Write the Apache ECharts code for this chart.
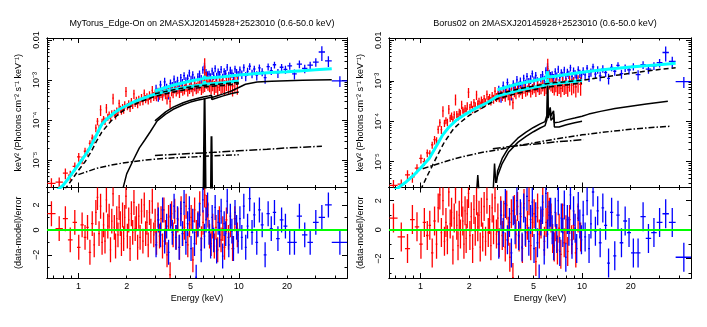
<!DOCTYPE html>
<html>
<head>
<meta charset="utf-8">
<script src="https://cdn.jsdelivr.net/npm/echarts@6.0.0/dist/echarts.min.js"></script>
<style>
  html, body { margin: 0; padding: 0; background: #fff; }
  #chart { width: 707px; height: 327px; }
</style>
</head>
<body>
<div id="chart"></div>
<script>
// ---- data (flux values in units of 1e-4 keV^2 photons/cm^2/s/keV) ----

// red data group: bin edges (keV), flux, error (%), residuals for both fits
const redEdge = [0.64,0.72,0.80,0.86,0.92,0.98,1.03,1.08,1.12,1.16,1.20,1.24,1.27,1.30,1.33,1.36,1.39,1.42,1.45,1.48,
  1.51,1.54,1.57,1.60,1.63,1.66,1.69,1.72,1.75,1.78,1.81,1.84,1.87,1.90,1.93,1.96,2.00,2.04,2.08,2.12,
  2.16,2.20,2.24,2.28,2.32,2.36,2.40,2.45,2.50,2.55,2.60,2.65,2.70,2.75,2.80,2.86,2.92,2.98,3.04,3.10,
  3.17,3.24,3.31,3.38,3.45,3.53,3.61,3.69,3.77,3.85,3.94,4.03,4.12,4.22,4.32,4.42,4.53,4.64,4.75,4.87,
  4.99,5.11,5.24,5.37,5.50,5.64,5.78,5.92,6.06,6.20,6.35,6.50,6.65,6.80,6.96,7.12,7.30,7.48,7.66,7.85,
  8.05,8.25,8.50,8.75,9.00,9.30,9.60,10.0]
const redFlux = [0.026,0.028,0.047,0.042,0.069,0.12,0.10,0.165,0.16,0.26,
  0.35,0.33,0.63,0.93,0.62,1.8,0.9,1.05,0.95,2.0,
  1.2,1.35,1.1,1.45,3.5,1.5,1.3,1.7,1.6,2.6,
  1.9,1.7,2.1,1.8,2.4,5.2,2.2,2.6,2.0,2.9,
  2.4,4.5,2.7,3.1,2.5,3.3,2.9,3.6,3.0,4.6,
  3.4,3.8,3.2,4.2,3.6,5.5,4.0,4.4,3.9,5.0,
  4.3,4.8,4.1,5.4,4.6,3.5,5.3,2.9,5.6,5.0,
  6.2,5.2,5.9,4.9,6.6,5.6,6.0,7.2,5.5,6.4,
  7.0,5.8,7.6,6.5,6.9,8.2,6.4,7.3,20,11,
  9.0,8.0,7.0,8.4,6.8,7.9,6.5,8.8,7.4,8.1,
  6.9,9.2,7.8,8.6,7.1,9.4,8.2]
const redErr = [35,30,30,28,25,25,22,22,20,20,
  24,22,22,21,22,30,20,20,21,26,
  20,21,20,21,30,20,21,20,20,24,
  20,21,20,21,22,28,21,20,21,22,
  22,26,22,22,22,23,22,23,22,25,
  23,23,24,25,25,28,25,25,25,27,
  26,26,26,28,28,30,30,32,30,30,
  26,26,26,28,28,28,28,30,30,30,
  30,32,32,32,33,34,34,36,75,45,
  40,38,38,38,38,40,40,40,40,42,
  42,42,44,44,46,46,48]
const redResMyTorus = [1.3,0.1,0.9,-0.8,0.6,-1.4,0.4,-0.6,0.2,-1.8,
  0.5,-1.2,1.4,2.6,-0.3,1.9,-1.0,0.4,-0.9,2.4,
  0.3,1.1,-1.6,0.7,2.9,0.2,-1.3,0.9,-0.4,1.8,
  0.5,-1.1,1.2,-0.7,1.0,2.7,-0.5,0.8,-1.5,1.3,
  -0.2,2.2,0.1,0.9,-1.4,1.1,-0.6,1.5,-0.9,2.0,
  -0.3,0.6,-1.2,1.4,-0.1,2.3,-0.4,0.7,-1.0,1.2,
  -0.5,0.9,-1.3,1.6,-0.2,-2.0,1.0,-3.6,1.3,-0.4,
  1.5,-0.6,0.8,-1.4,1.7,-0.3,0.2,1.9,-1.2,0.4,
  1.0,-2.4,1.6,-0.2,0.5,2.1,-0.7,0.6,2.8,1.8,
  1.2,-0.5,-1.1,0.3,-1.3,0.2,-1.6,0.9,-0.8,0.1,
  -1.4,0.8,-0.6,0.4,-1.5,0.9,-0.4]
const redResBorus = [0.8,-0.5,-1.3,0.7,0.2,-1.0,0.5,-0.4,0.3,-1.6,
  0.6,-1.0,1.5,2.4,-0.2,2.0,-0.8,0.5,-0.7,2.6,
  0.4,1.2,-1.4,0.8,2.8,0.3,-1.1,1.0,-0.3,1.9,
  0.6,-1.0,1.3,-0.6,1.1,2.5,-0.4,0.9,-1.3,1.4,
  -0.1,2.0,0.2,1.0,-1.2,1.2,-0.5,1.6,-0.8,2.1,
  -0.2,0.7,-1.1,1.5,0.0,2.2,-0.3,0.8,-0.9,1.3,
  -0.4,1.0,-1.2,1.7,-0.1,-1.9,1.1,-3.3,1.4,-0.3,
  1.6,-0.5,0.9,-1.3,1.8,-0.2,0.3,2.0,-1.1,0.5,
  1.1,-2.2,1.5,-0.3,0.4,1.9,-0.8,0.5,1.6,1.2,
  0.8,-0.6,-1.2,0.2,-1.4,0.1,-1.7,0.8,-0.9,0.0,
  -1.5,0.7,-0.7,0.3,-1.6,0.8,-0.5]

// blue data group
const blueEdge = [3.00,3.10,3.20,3.30,3.40,3.50,3.60,3.70,3.80,3.90,4.00,4.10,4.20,4.30,4.40,4.50,4.62,4.74,4.86,4.98,
  5.10,5.23,5.36,5.49,5.62,5.76,5.90,6.04,6.18,6.32,6.46,6.60,6.75,6.90,7.05,7.20,7.36,7.52,7.68,7.85,
  8.02,8.20,8.38,8.57,8.76,8.96,9.16,9.37,9.58,9.80,10.03,10.3,10.6,10.9,11.2,11.5,11.9,12.3,12.7,13.2,
  13.7,14.3,14.9,15.6,16.3,17.1,18.0,19.0,20.1,21.5,23.0,24.8,26.8,29.0,31.5,34.5,38.0,48.0]
const blueFlux = [5.8,4.2,7.5,5.0,9.0,6.2,4.8,8.2,7.0,10.5,
  7.4,9.6,6.8,11.5,8.4,12.8,9.3,11.0,15.0,10.2,
  13.5,9.8,6.5,12.0,14.2,10.6,18.0,22.0,15.5,14.0,
  14.0,11.8,16.8,13.0,19.5,12.2,15.8,13.6,18.5,11.4,
  16.2,14.4,21.0,12.8,17.6,14.8,12.0,19.0,15.2,13.4,
  17.8,14.0,20.5,12.6,16.4,22.0,14.6,18.8,13.2,20.0,
  16.0,11.5,21.5,17.2,24.0,15.0,20.8,18.5,22.5,14.2,
  25.0,19.5,23.5,28.0,50.0,30.0,9.5]
const blueErr = [30,32,28,30,26,30,32,26,28,24,
  27,25,28,23,26,22,25,24,20,25,
  22,25,20,23,22,25,20,23,21,18,
  22,24,21,23,20,24,22,23,20,25,
  22,23,19,25,21,23,26,20,23,25,
  22,24,20,26,23,19,24,21,26,21,
  23,30,20,23,19,25,21,23,20,28,
  22,24,22,24,40,30,30]
const blueResMyTorus = [-1.2,0.8,-0.4,1.6,-0.9,0.3,-1.8,1.1,-0.2,1.9,
  -0.6,0.9,-1.4,1.3,-0.3,2.2,-1.0,0.5,1.7,-1.5,
  0.7,-1.1,-3.8,0.4,1.2,-1.6,2.4,-0.5,0.8,2.0,
  -0.2,-1.3,1.0,-0.8,1.8,-1.7,0.6,-0.4,1.5,-2.1,
  0.5,-0.3,2.3,-1.2,1.1,-0.1,-1.5,1.4,0.2,-0.9,
  0.9,-0.6,1.9,-1.4,0.3,2.5,-0.2,1.2,-1.0,1.6,
  0.4,-2.0,1.3,0.1,1.4,-0.7,0.8,0.3,-1.0,-1.0,
  1.1,-0.4,-1.0,0.6,1.0,2.0,-1.0]
const blueResBorus = [-1.0,1.0,-0.2,1.8,-0.7,0.5,-1.6,1.3,0.0,2.0,
  -0.4,1.1,-1.2,1.5,-0.1,2.3,-0.8,0.7,1.9,-1.3,
  0.9,-0.9,-3.4,0.6,1.4,-1.4,2.5,-0.3,1.0,1.2,
  0.0,-1.1,1.2,-0.6,2.0,-1.5,0.8,-0.2,1.7,-1.9,
  0.7,-0.1,2.4,-1.0,1.3,0.1,-1.3,1.6,0.4,-0.7,
  1.0,-0.5,2.0,-1.3,0.4,2.6,-0.1,1.3,-0.9,1.5,
  0.3,-2.3,1.2,-1.8,1.0,-0.9,0.6,-0.2,-1.6,-1.6,
  0.9,-0.6,-0.2,0.5,1.1,0.5,-1.9]

// MyTorus model curves [keV, flux]
const myTotalRed = [[0.72,0.016],[0.80,0.023],[0.86,0.033],[0.92,0.048],[0.98,0.068],[1.04,0.095],[1.10,0.13],[1.16,0.18],
  [1.22,0.26],[1.28,0.38],[1.34,0.56],[1.40,0.78],[1.50,1.05],[1.65,1.45],[1.80,1.85],[2.0,2.3],[2.2,2.8],[2.4,3.2],
  [2.64,3.7],[3.0,4.4],[3.5,5.2],[4.0,5.9],[5.0,6.9],[6.0,7.6],[6.06,7.7],[6.12,9.2],[6.18,7.8],[6.7,8.1],[6.76,8.6],
  [6.82,7.8],[8.0,8.5],[9.0,9.0],[10.0,9.4]]
const myTotalBlue = [[3.0,5.3],[3.5,6.5],[4.0,7.6],[5.0,9.4],[6.0,10.8],[6.06,10.9],[6.12,12.4],[6.18,11.0],[6.7,11.4],
  [6.76,11.9],[6.82,11.1],[8.0,12.0],[10.0,13.3],[13.0,14.6],[16.0,15.3],[20.0,16.1],[25.0,17.0],[30.0,17.9],[38.0,19.2]]
const myDirectRed = [[0.82,0.018],[0.90,0.03],[1.0,0.055],[1.1,0.09],[1.2,0.16],[1.3,0.3],[1.4,0.5],[1.6,0.95],[1.8,1.45],
  [2.0,1.95],[2.4,2.8],[3.0,3.9],[4.0,5.1],[5.0,6.0],[6.0,6.6],[6.8,7.0],[6.85,6.7],[8.0,7.3],[10.0,8.0]]
const myDirectBlue = [[3.0,4.5],[4.0,5.8],[5.0,6.7],[6.0,7.3],[6.8,7.7],[6.85,7.4],[8.0,8.0],[10.0,8.7]]
const myScatRed = [[1.9,0.02],[2.0,0.045],[2.2,0.1],[2.4,0.2],[2.6,0.32],[2.8,0.5],[3.1,0.95],[3.5,1.4],[3.9,1.85],[4.5,2.4],
  [5.0,2.8],[5.5,3.1],[6.0,3.35],[6.5,3.6],[6.75,3.7],[6.8,3.25],[6.9,3.3],[8.0,4.0],[9.0,4.6],[10.0,5.0]]
const myScatBlue = [[3.0,0.95],[3.5,1.6],[3.9,2.1],[4.5,2.7],[5.0,3.1],[5.5,3.45],[6.0,3.75],[6.5,4.0],[6.75,4.15],[6.8,3.65],
  [6.9,3.7],[8.0,4.5],[9.0,5.3],[10.0,6.5],[11.0,7.8],[13.0,8.9],[16.0,9.3],[20.0,9.6],[25.0,9.8],[30.0,9.95],[38.0,10.1]]
const myPlRed = [[1.0,0.043],[1.3,0.062],[1.64,0.076],[2.0,0.087],[2.64,0.10],[3.5,0.11],[5.4,0.12],[7.0,0.128],[10.0,0.135]]
const myPlBlue = [[3.0,0.13],[5.0,0.145],[7.0,0.155],[10.0,0.17],[15.0,0.185],[20.0,0.2],[33.0,0.22]]
const myFeKa = [[6.02,0.01],[6.09,0.6],[6.12,3.4],[6.15,0.6],[6.22,0.01]]
const myFeKb = [[6.70,0.01],[6.74,0.15],[6.76,0.39],[6.78,0.15],[6.82,0.01]]

// Borus02 model curves [keV, flux]
const boTotalRed = [[0.66,0.018],[0.72,0.022],[0.80,0.03],[0.90,0.045],[1.0,0.07],[1.13,0.12],[1.25,0.24],[1.37,0.46],
  [1.5,0.72],[1.66,1.05],[1.9,1.5],[2.2,2.1],[2.6,2.9],[3.0,4.2],[3.5,5.0],[4.0,5.7],[5.0,6.9],[6.0,7.9],[6.06,8.1],
  [6.12,11.0],[6.18,8.2],[6.8,8.6],[6.85,8.3],[8.0,9.2],[10.0,10.2]]
const boTotalBlue = [[3.0,6.0],[3.5,7.2],[4.0,8.3],[5.0,10.0],[6.0,11.8],[6.06,12.2],[6.12,17.0],[6.18,12.4],[6.8,13.0],
  [6.85,12.7],[8.0,14.3],[10.0,16.3],[13.0,18.4],[16.0,20.0],[20.0,21.8],[25.0,23.5],[30.0,25.0],[38.0,27.0]]
const boDirectRed = [[1.0,0.02],[1.1,0.045],[1.2,0.09],[1.3,0.17],[1.4,0.3],[1.6,0.65],[1.8,1.0],[2.0,1.4],[2.4,2.1],
  [3.0,3.6],[4.0,4.9],[5.0,6.0],[6.0,6.9],[6.8,7.4],[6.85,7.1],[8.0,7.9],[10.0,8.8]]
const boDirectBlue = [[3.0,4.7],[4.0,6.2],[5.0,7.4],[6.0,8.4],[6.8,9.0],[6.85,8.7],[8.0,9.5],[10.0,10.3],[13.0,12.0],
  [16.0,13.5],[20.0,15.3],[25.0,17.3],[30.0,19.0],[38.0,21.0]]
const boReflRed = [[2.20,0.01],[2.26,0.047],[2.32,0.01],[2.80,0.012],[2.87,0.09],[2.92,0.03],[3.0,0.045],[3.2,0.09],
  [3.5,0.17],[4.0,0.3],[4.5,0.42],[5.0,0.55],[5.5,0.68],[5.9,0.78],[6.06,1.1],[6.12,7.5],[6.18,1.2],[6.3,1.15],
  [6.35,2.0],[6.42,1.05],[6.6,1.2],[6.66,1.5],[6.74,0.72],[6.85,0.68],[7.2,0.72],[8.0,0.82],[9.0,0.92],[10.0,1.0]]
const boReflBlue = [[2.95,0.03],[3.0,0.06],[3.2,0.12],[3.5,0.22],[4.0,0.38],[4.5,0.54],[5.0,0.7],[5.5,0.86],[5.9,0.98],
  [6.06,1.4],[6.12,7.0],[6.18,1.5],[6.3,1.45],[6.35,2.2],[6.42,1.35],[6.6,1.5],[6.66,1.8],[6.74,0.92],[6.85,0.88],
  [7.2,0.95],[8.0,1.08],[9.0,1.2],[10.0,1.33],[11.0,1.5],[13.0,1.75],[16.0,2.05],[20.0,2.35],[25.0,2.65],[34.0,3.1]]
const boPlBlue = [[1.03,0.067],[1.3,0.09],[1.64,0.12],[2.0,0.145],[2.5,0.175],[3.1,0.2],[4.0,0.25],[5.0,0.29],[7.0,0.37],
  [10.0,0.46],[15.0,0.56],[20.0,0.63],[27.0,0.7],[35.0,0.75]]
const boPlRed = [[2.8,0.21],[4.0,0.25],[5.0,0.27],[7.0,0.31],[10.2,0.35]]

// axis ticks
const xMajorTicks = [1, 10]
const xMinorTicks = [0.7, 0.8, 0.9, 2, 3, 4, 5, 6, 7, 8, 9, 20, 30, 40]
const xTickLabels = [1, 2, 5, 10, 20]
const yMajorTicks = [1e-5, 1e-4, 1e-3, 1e-2]
const resMajorTicks = [-2, 0, 2]
const resMinorTicks = [-3, -1, 1, 3]

// check lengths
if (redFlux.length !== redEdge.length - 1 || redErr.length !== redFlux.length ||
  redResMyTorus.length !== redFlux.length || redResBorus.length !== redFlux.length) {
  throw new Error('red lengths ' + [redEdge.length, redFlux.length, redErr.length, redResMyTorus.length, redResBorus.length])
}
if (blueFlux.length !== blueEdge.length - 1 || blueErr.length !== blueFlux.length ||
  blueResMyTorus.length !== blueFlux.length || blueResBorus.length !== blueFlux.length) {
  throw new Error('blue lengths ' + [blueEdge.length, blueFlux.length, blueErr.length, blueResMyTorus.length, blueResBorus.length])
}

const FONT = 'Liberation Sans'
const xMin = 0.637, xMax = 47.3

// minor log ticks on the flux axis
const yMinorTicks = []
for (const d of [1e-6, 1e-5, 1e-4, 1e-3]) {
  for (let k = 2; k <= 9; k++) yMinorTicks.push(k * d)
}

// ---- build series data ----
// [elo, ehi, y, ylo, yhi, emid]
const fluxData = (edge, flux, err) => flux.map((f, i) => {
  const v = f * 1e-4, e = err[i] / 100
  return [edge[i], edge[i + 1], v, v * (1 - e), v * (1 + e), Math.sqrt(edge[i] * edge[i + 1])]
})
const resData = (edge, res) => res.map((r, i) => [edge[i], edge[i + 1], r, r - 1, r + 1, Math.sqrt(edge[i] * edge[i + 1])])
const curve = pts => pts.map(p => [p[0], p[1] * 1e-4])

// ---- axes ----
function frameAxis(extra) {
  return Object.assign({
    splitLine: { show: false },
    axisLine: { show: true, onZero: false, lineStyle: { color: '#000', width: 1 } },
    axisLabel: { show: false },
    axisPointer: { show: false }
  }, extra)
}
function tick(values, len) {
  return { show: true, inside: true, length: len, customValues: values, lineStyle: { color: '#000', width: 1 } }
}
const labelStyle = { color: '#000', fontFamily: FONT, fontSize: 9 }

function energyAxes(grid, labelled) {
  const common = { type: 'log', gridIndex: grid, min: xMin, max: xMax }
  const major = frameAxis({ ...common, position: 'bottom', axisTick: tick(xMajorTicks, 5) })
  if (labelled) {
    major.axisLabel = { show: true, customValues: xTickLabels, margin: 4, ...labelStyle, formatter: v => String(Math.round(v)) }
    major.name = 'Energy (keV)'
    major.nameLocation = 'middle'
    major.nameGap = 16
    major.nameTextStyle = { ...labelStyle }
  }
  return [
    major,
    frameAxis({ ...common, position: 'bottom', axisTick: tick(xMinorTicks, 2.5) }),
    frameAxis({ ...common, position: 'top', axisTick: tick(xMajorTicks, 5) }),
    frameAxis({ ...common, position: 'top', axisTick: tick(xMinorTicks, 2.5) })
  ]
}

// 纵轴：上面是通量（对数），下面是残差
function fluxAxes(grid, min, max) {
  const common = { type: 'log', gridIndex: grid, min, max }
  const names = { '-5': '10⁻⁵', '-4': '10⁻⁴', '-3': '10⁻³', '-2': '0.01' }
  return [
    frameAxis({
      ...common, position: 'left', axisTick: tick(yMajorTicks, 5),
      axisLabel: { show: true, customValues: yMajorTicks, rotate: 90, margin: 6, ...labelStyle,
        formatter: v => names[Math.round(Math.log10(v))] },
      name: 'keV² (Photons cm⁻² s⁻¹ keV⁻¹)', nameLocation: 'middle', nameGap: 24, nameRotate: 90,
      nameTextStyle: { ...labelStyle }
    }),
    frameAxis({ ...common, position: 'left', axisTick: tick(yMinorTicks, 2.5) }),
    frameAxis({ ...common, position: 'right', axisTick: tick(yMajorTicks, 5) }),
    frameAxis({ ...common, position: 'right', axisTick: tick(yMinorTicks, 2.5) })
  ]
}
function resAxes(grid, min, max) {
  const common = { type: 'value', gridIndex: grid, min, max }
  return [
    frameAxis({
      ...common, position: 'left', axisTick: tick(resMajorTicks, 5),
      axisLabel: { show: true, customValues: resMajorTicks, rotate: 90, margin: 6, ...labelStyle,
        formatter: v => (v < 0 ? '−' + Math.abs(v) : String(v)) },
      name: '(data-model)/error', nameLocation: 'middle', nameGap: 24, nameRotate: 90,
      nameTextStyle: { ...labelStyle }
    }),
    frameAxis({ ...common, position: 'left', axisTick: tick(resMinorTicks, 2.5) }),
    frameAxis({ ...common, position: 'right', axisTick: tick(resMajorTicks, 5) }),
    frameAxis({ ...common, position: 'right', axisTick: tick(resMinorTicks, 2.5) })
  ]
}

// ---- series helpers ----
const CROSS_W = 1.3
function crosses(data, color, ax, z) {
  return {
    type: 'custom', xAxisIndex: ax, yAxisIndex: ax, clip: true, silent: true, z,
    encode: { x: [0, 1, 5], y: [2, 3, 4] },
    data,
    renderItem: (params, api) => {
      const e = api.value(5), f = api.value(2)
      const a = api.coord([api.value(0), f])
      const b = api.coord([api.value(1), f])
      const c = api.coord([e, api.value(3)])
      const d = api.coord([e, api.value(4)])
      return {
        type: 'group', children: [
          { type: 'line', shape: { x1: a[0], y1: a[1], x2: b[0], y2: b[1] }, style: { stroke: color, lineWidth: CROSS_W } },
          { type: 'line', shape: { x1: c[0], y1: c[1], x2: d[0], y2: d[1] }, style: { stroke: color, lineWidth: CROSS_W } }
        ]
      }
    }
  }
}
function line(pts, color, width, type, ax, z) {
  return {
    type: 'line', xAxisIndex: ax, yAxisIndex: ax, data: curve(pts), showSymbol: false, symbol: 'none',
    silent: true, clip: true, z, lineStyle: { color, width, type }
  }
}
function zeroLine(ax) {
  return {
    type: 'line', xAxisIndex: ax, yAxisIndex: ax, data: [], silent: true, z: 20,
    markLine: { symbol: 'none', silent: true, label: { show: false }, animation: false,
      lineStyle: { color: '#00ff00', width: 2, type: 'solid' }, data: [{ yAxis: 0 }] }
  }
}

const DASH = [5, 3]
const DASHDOT = [6, 2, 1.5, 2]
const DASHDOT2 = [8, 2, 1.5, 2]

// axis index bases: grid0 = 0, grid1 = 4, grid2 = 8, grid3 = 12
const UL = 0, LL = 4, UR = 8, LR = 12

const series = [
  // MyTorus upper
  crosses(fluxData(blueEdge, blueFlux, blueErr), '#0000ff', UL, 2),
  crosses(fluxData(redEdge, redFlux, redErr), '#ff0000', UL, 3),
  line(myTotalRed, '#00ffff', 3, 'solid', UL, 4),
  line(myTotalBlue, '#00ffff', 3, 'solid', UL, 4),
  line(myDirectRed, '#000', 1.5, DASH, UL, 5),
  line(myDirectBlue, '#000', 1.5, DASH, UL, 5),
  line(myScatRed, '#000', 1.5, 'solid', UL, 5),
  line(myScatBlue, '#000', 1.5, 'solid', UL, 5),
  line(myPlRed, '#000', 1.5, DASHDOT, UL, 5),
  line(myPlBlue, '#000', 1.5, DASHDOT2, UL, 5),
  line(myFeKa, '#000', 2, 'solid', UL, 5),
  line(myFeKb, '#000', 2, 'solid', UL, 5),
  // MyTorus residuals
  crosses(resData(redEdge, redResMyTorus), '#ff0000', LL, 2),
  crosses(resData(blueEdge, blueResMyTorus), '#0000ff', LL, 3),
  zeroLine(LL),
  // Borus upper
  crosses(fluxData(blueEdge, blueFlux, blueErr), '#0000ff', UR, 2),
  crosses(fluxData(redEdge, redFlux, redErr), '#ff0000', UR, 3),
  line(boTotalRed, '#00ffff', 3, 'solid', UR, 4),
  line(boTotalBlue, '#00ffff', 3, 'solid', UR, 4),
  line(boDirectRed, '#000', 1.5, DASH, UR, 5),
  line(boDirectBlue, '#000', 1.5, DASH, UR, 5),
  line(boReflRed, '#000', 1.5, 'solid', UR, 5),
  line(boReflBlue, '#000', 1.5, 'solid', UR, 5),
  line(boPlBlue, '#000', 1.5, DASHDOT, UR, 5),
  line(boPlRed, '#000', 1.5, DASHDOT2, UR, 5),
  // Borus residuals
  crosses(resData(redEdge, redResBorus), '#ff0000', LR, 2),
  crosses(resData(blueEdge, blueResBorus), '#0000ff', LR, 3),
  zeroLine(LR)
]

const gridBase = { containLabel: false, outerBoundsMode: 'none', show: false }
const option = {
  animation: false,
  backgroundColor: '#fff',
  textStyle: { fontFamily: FONT },
  title: [
    { text: 'MyTorus_Edge-On on 2MASXJ20145928+2523010 (0.6-50.0 keV)', left: 197, top: 14, textAlign: 'center',
      textStyle: { ...labelStyle, fontWeight: 'normal' } },
    { text: 'Borus02 on 2MASXJ20145928+2523010 (0.6-50.0 keV)', left: 540, top: 14, textAlign: 'center',
      textStyle: { ...labelStyle, fontWeight: 'normal' } }
  ],
  grid: [
    { ...gridBase, left: 47, top: 38, width: 300, height: 149.5 },
    { ...gridBase, left: 47, top: 187.5, width: 300, height: 90.5 },
    { ...gridBase, left: 389, top: 38, width: 302, height: 149.5 },
    { ...gridBase, left: 389, top: 187.5, width: 302, height: 90.5 }
  ],
  xAxis: [...energyAxes(0, false), ...energyAxes(1, true), ...energyAxes(2, false), ...energyAxes(3, true)],
  yAxis: [...fluxAxes(0, 2.05e-6, 0.0112), ...resAxes(1, -3.86, 3.4), ...fluxAxes(2, 2.3e-6, 0.0114), ...resAxes(3, -3.33, 2.91)],
  series
}

const myChart = echarts.init(document.querySelector('#chart'))
myChart.setOption(option)
</script>
</body>
</html>
